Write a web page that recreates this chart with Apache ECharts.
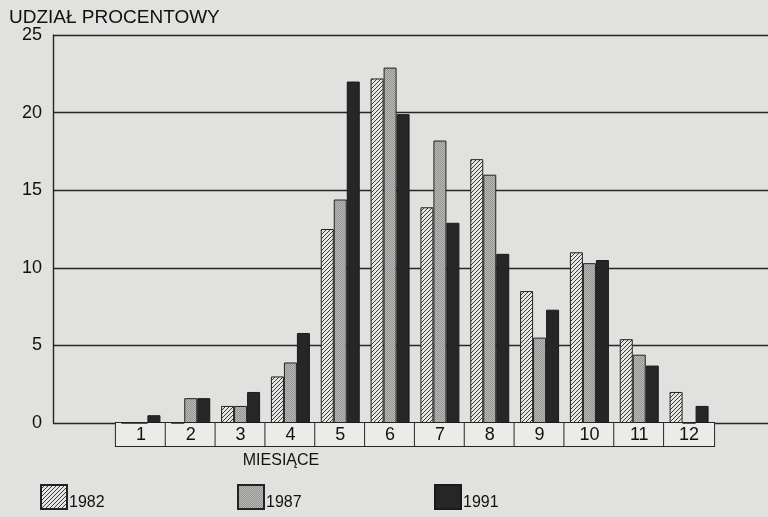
<!DOCTYPE html>
<html>
<head>
<meta charset="utf-8">
<script src="https://cdn.jsdelivr.net/npm/echarts@6.0.0/dist/echarts.min.js"></script>
<style>
  html, body { margin: 0; padding: 0; background: #e1e1df; }
  #chart { width: 768px; height: 517px; }
</style>
</head>
<body>
<div id="chart"></div>
<script>
// months on the x axis
var months = ['1', '2', '3', '4', '5', '6', '7', '8', '9', '10', '11', '12']
// percentage share per month
var y1982 = [0, 0, 1.1, 3.0, 12.5, 22.2, 13.9, 17.0, 8.5, 11.0, 5.4, 2.0]
var y1987 = [0, 1.6, 1.1, 3.9, 14.4, 22.9, 18.2, 16.0, 5.5, 10.3, 4.4, 0]
var y1991 = [0.5, 1.6, 2.0, 5.8, 22.0, 19.9, 12.9, 10.9, 7.3, 10.5, 3.7, 1.1]
var yTicks = [0, 5, 10, 15, 20, 25]

var bg = '#e1e1df'
var ink = '#262626'

// hatched fill "////"
function hatch() {
  var c = document.createElement('canvas')
  c.width = 4
  c.height = 4
  var ctx = c.getContext('2d')
  ctx.fillStyle = '#e6e6e4'
  ctx.fillRect(0, 0, 4, 4)
  ctx.fillStyle = '#3a3a3a'
  for (var x = 0; x < 4; x++) {
    for (var y = 0; y < 4; y++) {
      if ((x + y) % 4 === 3) ctx.fillRect(x, y, 1, 1)
    }
  }
  return c
}
// grey stipple
function stipple() {
  var c = document.createElement('canvas')
  c.width = 2
  c.height = 2
  var ctx = c.getContext('2d')
  ctx.fillStyle = '#b9b9b7'
  ctx.fillRect(0, 0, 2, 2)
  ctx.fillStyle = '#949492'
  ctx.fillRect(0, 0, 1, 1)
  ctx.fillRect(1, 1, 1, 1)
  return c
}

var chart = echarts.init(document.getElementById('chart'))

var sans = "'Liberation Sans', Arial, sans-serif"

function legendAt(name, left) {
  return {
    data: [name],
    left: left,
    top: 484,
    icon: 'rect',
    itemWidth: 26,
    itemHeight: 24,
    padding: 0,
    selectedMode: false,
    formatter: '{t|{name}}',
    textStyle: {
      rich: {
        t: {
          fontFamily: sans,
          fontSize: 16,
          color: '#111',
          padding: [12, 0, 0, -3]
        }
      }
    }
  }
}

chart.setOption({
  backgroundColor: bg,
  animation: false,
  title: {
    text: 'UDZIAŁ PROCENTOWY',
    left: 4,
    top: 3,
    textStyle: { fontFamily: sans, fontSize: 19, fontWeight: 'normal', color: '#111' }
  },
  graphic: [{
    type: 'text',
    x: 281,
    y: 461,
    style: {
      text: 'MIESIĄCE',
      font: '16px ' + sans,
      fill: '#111',
      align: 'center',
      verticalAlign: 'middle'
    }
  }],
  legend: [legendAt('1982', 40), legendAt('1987', 237), legendAt('1991', 434)],
  grid: [
    { left: 53, right: -2, top: 35, bottom: 94 },
    { left: 116, right: 54, top: 35, bottom: 94 }
  ],
  xAxis: [
    { type: 'value', gridIndex: 0, show: false },
    {
      type: 'category',
      gridIndex: 1,
      data: months,
      axisLine: { show: true, lineStyle: { color: ink, width: 1 } },
      axisTick: { show: false },
      axisLabel: {
        interval: 0,
        margin: 0,
        width: 50,
        height: 23,
        lineHeight: 24,
        align: 'center',
        backgroundColor: '#ebebe9',
        borderColor: ink,
        borderWidth: 1,
        fontFamily: sans,
        fontSize: 18,
        color: '#111'
      }
    }
  ],
  yAxis: [
    {
      type: 'value',
      gridIndex: 0,
      min: yTicks[0],
      max: yTicks[yTicks.length - 1],
      interval: 5,
      axisLine: { show: true, lineStyle: { color: ink, width: 1.4 } },
      axisTick: { show: false },
      axisLabel: { margin: 11, fontFamily: sans, fontSize: 18, color: '#111' },
      splitLine: { show: true, lineStyle: { color: ink, width: 1.4 } }
    },
    { type: 'value', gridIndex: 1, min: 0, max: 25, show: false }
  ],
  series: [
    {
      name: '1982',
      type: 'bar',
      xAxisIndex: 1,
      yAxisIndex: 1,
      barWidth: 13,
      barGap: '0%',
      itemStyle: { color: { image: hatch(), repeat: 'repeat' }, borderColor: '#222', borderWidth: 1 },
      data: y1982
    },
    {
      name: '1987',
      type: 'bar',
      xAxisIndex: 1,
      yAxisIndex: 1,
      barWidth: 13,
      barGap: '0%',
      itemStyle: { color: { image: stipple(), repeat: 'repeat' }, borderColor: '#222', borderWidth: 1 },
      data: y1987
    },
    {
      name: '1991',
      type: 'bar',
      xAxisIndex: 1,
      yAxisIndex: 1,
      barWidth: 13,
      barGap: '0%',
      itemStyle: { color: '#262626', borderColor: '#1a1a1a', borderWidth: 1 },
      data: y1991
    }
  ]
})
</script>
</body>
</html>
